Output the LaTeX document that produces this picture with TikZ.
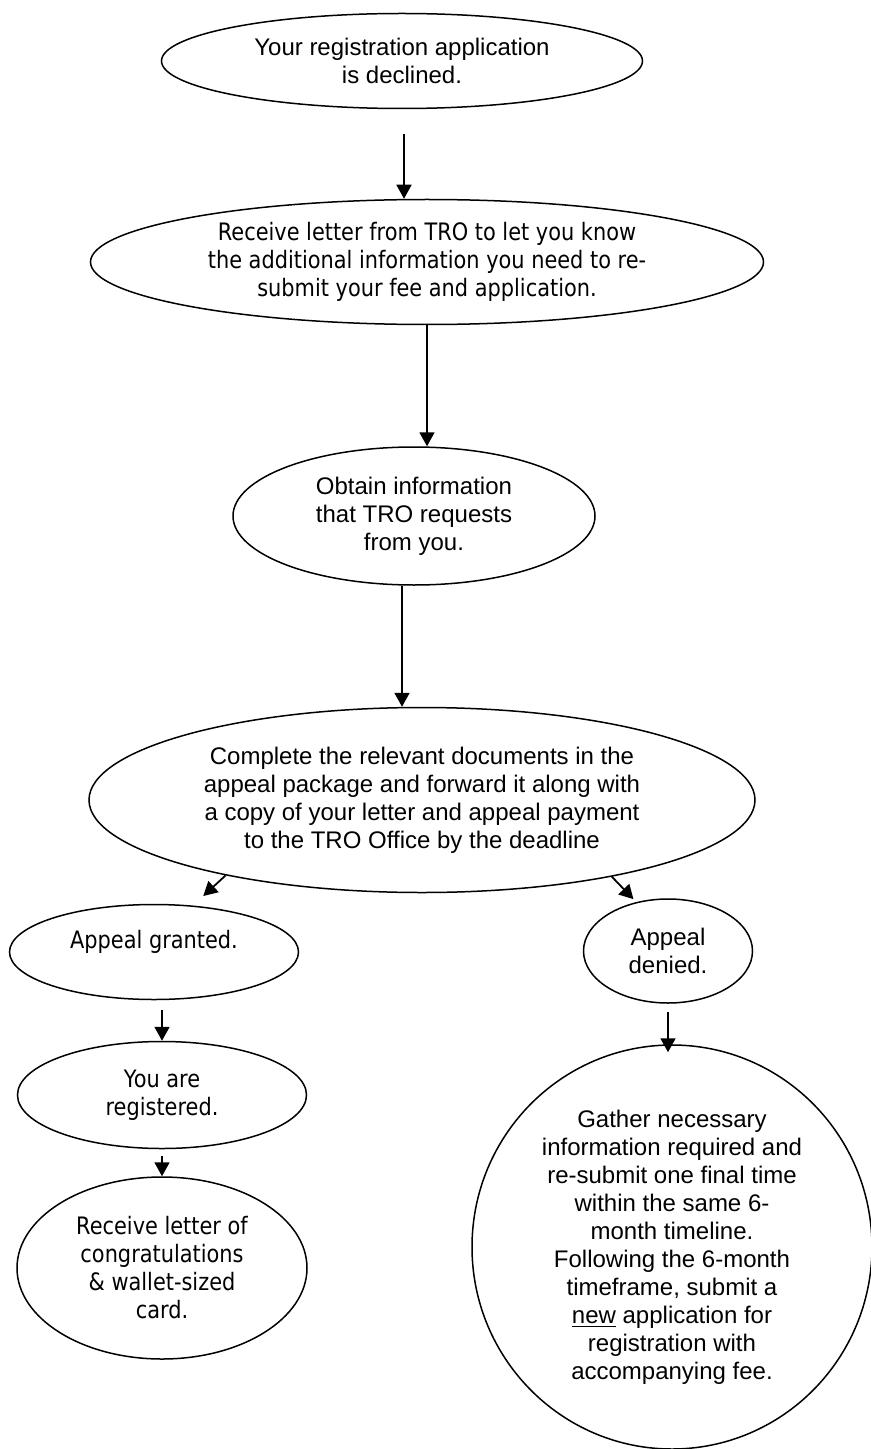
\documentclass[tikz,border=0pt]{standalone}
\usepackage{fontspec}
\setmainfont{Liberation Sans}
\newfontfamily\tahoma{DejaVu Sans}[FakeStretch=0.87]
\usetikzlibrary{arrows.meta,shapes.geometric}

\begin{document}
\begin{tikzpicture}[
  x=0.5pt, y=-0.5pt, >={Triangle[length=7pt,width=7.5pt]},
  oval/.style={draw, ellipse, line width=0.75pt, inner sep=0pt, align=center, font=\fontsize{12}{14}\selectfont},
  tah/.style={font=\tahoma\fontsize{12}{14}\selectfont},
  txt/.style={align=center, inner sep=0pt, font=\fontsize{12}{14}\selectfont},
  flow/.style={->, line width=0.9pt}
]
\useasboundingbox (0,0) rectangle (871,1449);

% main column
\node[oval, minimum width=240.5pt, minimum height=47.5pt] (declined) at (402,61)
  {Your registration application\\ is declined.};
\node[oval, tah, minimum width=336.5pt, minimum height=62.5pt] (letter) at (427,262)
  {Receive letter from TRO to let you know\\ the additional information you need to re-\\ submit your fee and application.};
\node[oval, minimum width=181pt, minimum height=69pt] (obtain) at (414,516)
  {Obtain information\\ that TRO requests\\ from you.};
\node[oval, minimum width=333pt, minimum height=92.5pt] (complete) at (422,800)
  {Complete the relevant documents in the\\ appeal package and forward it along with\\ a copy of your letter and appeal payment\\ to the TRO Office by the deadline};

% granted branch
\node[oval, minimum width=144.5pt, minimum height=47.5pt] (granted) at (154,952) {};
\node[txt, tah] (grantedtxt) at ([yshift=5pt]granted.center) {Appeal granted.};
\node[oval, tah, minimum width=144.5pt, minimum height=53.5pt] (registered) at (162,1095)
  {You are\\ registered.};
\node[oval, tah, minimum width=145pt, minimum height=91pt] (congrats) at (162,1268)
  {Receive letter of\\ congratulations\\ \& wallet-sized\\ card.};

% denied branch
\node[oval, minimum width=84.5pt, minimum height=52pt] (denied) at (668,951)
  {Appeal\\ denied.};
\node[oval, minimum width=200pt, minimum height=202pt] (gather) at (672,1247)
  {Gather necessary\\ information required and\\ re-submit one final time\\ within the same 6-\\ month timeline.\\ Following the 6-month\\ timeframe, submit a\\ \underline{new} application for\\ registration with\\ accompanying fee.};

% connectors
\draw[flow] ([xshift=1pt,yshift=-12.5pt]declined.south) -- ([xshift=1pt]declined.south |- letter.north);
\draw[flow] (letter.south) -- (letter.south |- obtain.north);
\draw[flow] ([xshift=-6pt]obtain.south) -- ([xshift=-6pt]obtain.south |- complete.north);
\draw[flow, shorten >=7pt] (complete.201) -- (granted.50);
\draw[flow, shorten >=2pt] (complete.338) -- (denied.123);
\draw[flow] ([yshift=-5pt]granted.south -| registered.north) -- (registered.north);
\draw[flow] ([yshift=-3.5pt]registered.south) -- (congrats.north);
\draw[flow] ([yshift=-4pt]denied.south) -- ([yshift=-4pt]denied.south |- gather.north);
\end{tikzpicture}
\end{document}
